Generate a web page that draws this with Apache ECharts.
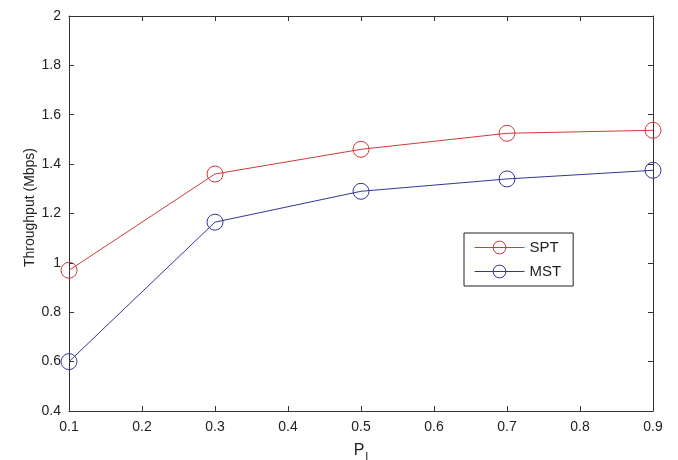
<!DOCTYPE html>
<html>
<head>
<meta charset="utf-8">
<script src="https://cdn.jsdelivr.net/npm/echarts@6/dist/echarts.min.js"></script>
<style>
  html, body { margin: 0; padding: 0; background: #fff; }
  #chart { width: 678px; height: 460px; }
</style>
</head>
<body>
<div id="chart"></div>
<script>
const pValues = [0.1, 0.3, 0.5, 0.7, 0.9];
const sptThroughput = [0.97, 1.36, 1.46, 1.525, 1.537];
const mstThroughput = [0.60, 1.165, 1.29, 1.34, 1.375];

const RED = '#d03a3a';
const BLUE = '#35359a';
const FONT = 'Liberation Sans, Arial';

const chart = echarts.init(document.getElementById('chart'), null, { renderer: 'canvas' });

const tickStyle = { inside: true, length: 5, lineStyle: { color: '#333' } };
const lineStyle = { lineStyle: { color: '#333', width: 1 } };
const labelStyle = { color: '#222', fontSize: 14, fontFamily: FONT };

const option = {
    animation: false,
    backgroundColor: '#fff',
    grid: { left: 69, right: 25, top: 16, bottom: 49, containLabel: false, outerBoundsMode: 'none' },
    xAxis: [
        {
            type: 'value', min: 0.1, max: 0.9, interval: 0.1,
            axisLine: lineStyle, axisTick: tickStyle, splitLine: { show: false },
            axisLabel: Object.assign({ margin: 9 }, labelStyle),
            name: '{p|P}{s|I}', nameLocation: 'middle', nameGap: 28,
            nameTextStyle: {
                rich: {
                    p: { fontSize: 16, color: '#222', fontFamily: FONT },
                    s: { fontSize: 11, color: '#222', fontFamily: FONT, padding: [12, 0, 0, 1] }
                }
            }
        },
        {
            type: 'value', position: 'top', min: 0.1, max: 0.9, interval: 0.1,
            axisLine: lineStyle, axisTick: tickStyle, axisLabel: { show: false }, splitLine: { show: false }
        }
    ],
    yAxis: [
        {
            type: 'value', min: 0.4, max: 2, interval: 0.2,
            axisLine: lineStyle, axisTick: tickStyle, splitLine: { show: false },
            axisLabel: Object.assign({ margin: 8 }, labelStyle),
            name: 'Throughput (Mbps)', nameLocation: 'middle', nameGap: 32,
            nameMoveOverlap: false,
            nameTextStyle: { fontSize: 14, color: '#222', fontFamily: FONT, padding: [0, 0, 0, 12] }
        },
        {
            type: 'value', position: 'right', min: 0.4, max: 2, interval: 0.2,
            axisLine: lineStyle, axisTick: tickStyle, axisLabel: { show: false }, splitLine: { show: false }
        }
    ],
    legend: {
        orient: 'vertical', left: 464, top: 233,
        itemWidth: 50, itemHeight: 16, itemGap: 9,
        padding: [7, 12, 7, 10],
        borderColor: '#222', borderWidth: 1, backgroundColor: '#fff',
        itemStyle: { borderWidth: 1, color: 'rgba(0,0,0,0)' },
        lineStyle: { width: 1 },
        textStyle: { fontSize: 15, color: '#222', fontFamily: FONT },
        data: ['SPT', 'MST']
    },
    series: [
        {
            name: 'SPT', type: 'line',
            data: pValues.map((p, i) => [p, sptThroughput[i]]),
            symbol: 'circle', symbolSize: 16,
            lineStyle: { color: RED, width: 1 },
            itemStyle: { color: 'rgba(0,0,0,0)', borderColor: RED, borderWidth: 1 }
        },
        {
            name: 'MST', type: 'line',
            data: pValues.map((p, i) => [p, mstThroughput[i]]),
            symbol: 'circle', symbolSize: 16,
            lineStyle: { color: BLUE, width: 1 },
            itemStyle: { color: 'rgba(0,0,0,0)', borderColor: BLUE, borderWidth: 1 }
        }
    ]
};

chart.setOption(option);
</script>
</body>
</html>
